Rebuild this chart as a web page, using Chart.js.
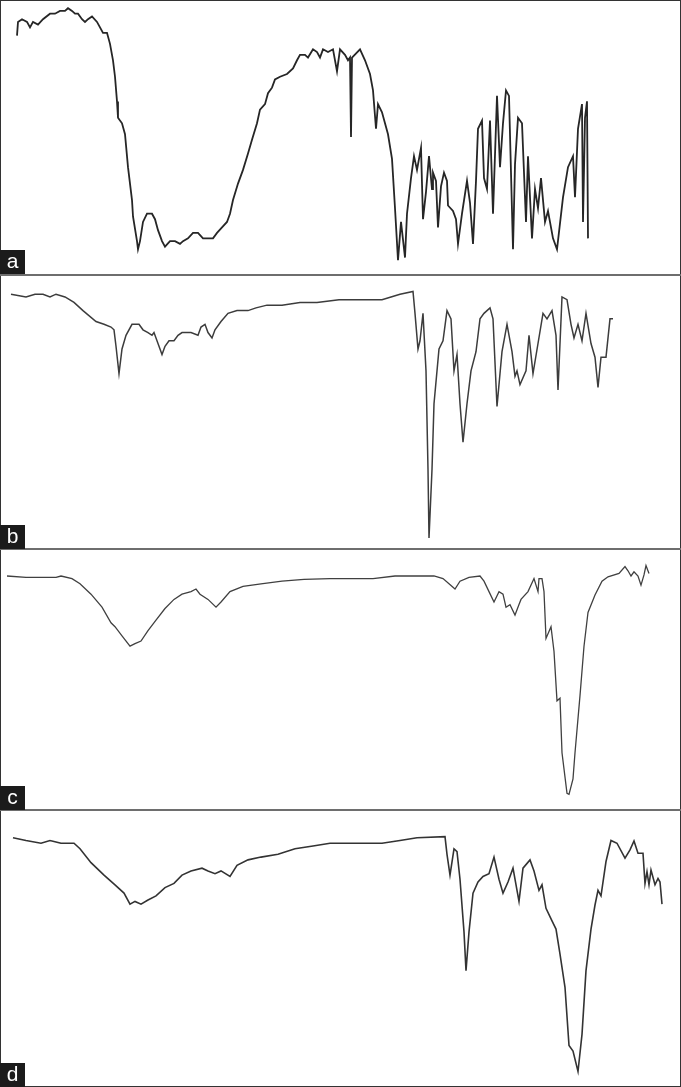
<!DOCTYPE html>
<html>
<head>
<meta charset="utf-8">
<script src="https://cdn.jsdelivr.net/npm/chart.js@4/dist/chart.umd.min.js"></script>
<style>
  body { margin: 0; background: #fff; }
  #figure { position: relative; width: 681px; height: 1087px; background: #fff; overflow: hidden; }
  .panel { position: absolute; left: 0; width: 681px; }
  .panel canvas { position: absolute; left: 0; top: 0; }
  .sep { position: absolute; left: 0; width: 681px; height: 2px; background: #6e6e6e; }
  .frame { position: absolute; left: 0; top: 0; width: 679px; height: 1085px; border: 1px solid #333; }
  .tag { position: absolute; left: 0; width: 25px; height: 24px; background: #1b1b1b; color: #fff;
         font-family: "Liberation Sans", Arial, sans-serif; font-size: 21px; line-height: 22px; text-align: center; }
</style>
</head>
<body>
<div id="figure">
  <div class="panel" style="top:0;height:274px"><canvas id="specA" width="681" height="274"></canvas></div>
  <div class="panel" style="top:275px;height:274px"><canvas id="specB" width="681" height="274"></canvas></div>
  <div class="panel" style="top:550px;height:260px"><canvas id="specC" width="681" height="260"></canvas></div>
  <div class="panel" style="top:810px;height:277px"><canvas id="specD" width="681" height="277"></canvas></div>
  <div class="frame"></div>
  <div class="sep" style="top:274px"></div>
  <div class="sep" style="top:548px"></div>
  <div class="sep" style="top:809px"></div>
  <div class="tag" style="top:250px">a</div>
  <div class="tag" style="top:525px">b</div>
  <div class="tag" style="top:786px">c</div>
  <div class="tag" style="top:1063px">d</div>
</div>
<script>
// positions along the (unlabelled) wavenumber axis, and % transmittance
const posA = [17,18,22,27,30,33,38,43,50,55,60,65,68,72,75,78,82,85,88,92,97,100,103,107,110,113,115,117,118,122,125,128,132,133,137,138,140,143,147,152,155,158,162,165,170,175,180,183,188,193,198,203,208,213,217,222,227,230,233,238,243,248,252,257,260,265,268,272,275,280,287,293,297,300,305,308,313,317,320,323,328,333,337,340,345,348,350,351,352,360,365,370,373,376,378,382,385,388,392,395,398,401,405,407,411,414,417,421,423,426,429,432,433,436,438,441,444,447,448,453,456,458,462,467,470,473,476,478,482,484,487,490,493,497,500,503,506,509,513,515,518,522,526,528,532,535,538,541,545,548,553,557,563,568,573,575,578,582,583,585,587,588];
const transA = [87,92,93,92,90,92,91,93,95,95,96,96,97,96,95,95,93,92,93,94,92,90,88,88,84,78,72,63,57,55,51,39,27,21,12,9,12,19,22,22,20,16,12,10,12,12,11,12,13,15,15,13,13,13,15,17,19,22,27,33,38,44,49,55,60,62,66,68,71,72,73,75,78,80,80,79,82,81,79,82,81,82,74,82,80,78,79,50,79,82,78,73,67,53,62,59,55,51,42,24,5,19,6,22,35,43,38,46,20,30,43,31,37,34,17,32,37,34,25,23,20,11,22,34,26,11,34,53,56,35,31,56,22,65,39,55,67,65,9,40,57,55,19,43,13,31,24,35,19,23,13,9,28,39,43,28,53,62,19,57,63,13];

const posB = [11,26,35,43,50,56,65,74,83,96,104,111,114,116,119,122,126,132,139,143,148,152,154,159,162,165,169,174,178,182,191,198,201,205,208,212,215,221,228,237,248,256,267,282,300,317,339,360,382,391,400,413,415,418,420,423,426,428,429,432,434,439,443,447,451,454,457,460,463,467,471,476,480,484,490,493,497,502,507,512,515,517,520,526,529,533,538,543,547,552,556,558,562,567,571,574,578,582,586,591,595,598,601,606,610,613];
const transB = [93,92,93,93,92,93,92,90,87,83,82,81,80,74,64,73,78,82,82,80,79,78,79,74,71,74,76,76,78,79,79,78,81,82,79,77,80,83,86,87,87,88,89,89,90,90,91,91,91,92,93,94,86,73,76,86,65,29,4,29,53,73,76,87,84,65,71,53,39,53,65,72,84,86,88,84,52,72,82,72,63,65,60,65,78,64,75,86,84,87,78,58,92,91,82,77,82,76,86,75,70,59,70,70,84,84];

const posC = [7,26,56,61,72,80,91,102,111,115,122,130,135,141,148,156,165,174,182,191,196,200,208,216,221,230,243,261,282,304,330,373,395,434,443,449,455,460,469,480,484,489,494,499,503,506,510,515,519,521,528,534,538,539,542,544,546,551,554,557,560,562,567,569,573,575,580,584,588,595,602,608,619,625,628,631,634,638,641,644,646,649];
const transC = [90,89.5,89.5,90,89,87,83,78,72,70.5,67,63,64,65,69,73,77.5,81,83,84,85,83,81,78,80,84,86,87,88,88.7,89,89,90,90,89,87,85,88,89.5,90,88,84,80,84,83,78,79,75,79,81,84,89,84,89,89,84,66,70.5,61,42,43,22,6.4,6,12,22,44,63,76,82.7,88,89.7,91,93.6,92,90,91.6,90,86.5,90.4,94,91];

const posD = [13,26,41,50,61,74,80,91,104,115,124,130,135,141,148,156,165,174,182,191,202,208,215,221,230,237,248,261,278,295,313,330,347,382,400,417,445,447,450,454,457,460,464,466,469,473,478,483,489,494,499,503,508,513,519,523,530,534,539,542,546,552,556,560,565,569,573,578,582,586,591,595,598,601,606,611,617,625,630,634,638,643,645,647,649,651,655,658,660,662];
const transD = [90,89,88,89,88,88,86,81,76.5,73,70,66,67,66,67.5,69,72,73.5,76.5,78,79,78,77,78,76,80,82,83,84,86,87,88,88,88,89,90,90.4,84,76.5,86,85,75,56,42,56,70,74,76,77,83,75,70,74,79,67,79,82,78,71,73,64.5,60,57,48,36,15,13,5.6,19,42,57,65.7,71,69,81.4,89,88,82.6,85.6,88.8,84.4,84.4,73.5,77.7,73,78.3,73,75.3,74,66];

function drawSpectrum(canvasId, xs, ys, color, width) {
  const ctx = document.getElementById(canvasId).getContext('2d');
  new Chart(ctx, {
    type: 'line',
    data: {
      datasets: [{
        data: xs.map((x, i) => ({ x: x, y: ys[i] })),
        borderColor: color,
        borderWidth: width,
        pointRadius: 0,
        tension: 0,
        fill: false
      }]
    },
    options: {
      responsive: false,
      animation: false,
      layout: { padding: 0 },
      plugins: { legend: { display: false }, tooltip: { enabled: false } },
      scales: {
        x: { type: 'linear', min: 0, max: 681, display: false },
        y: { min: 0, max: 100, display: false }
      }
    }
  });
}

document.addEventListener("DOMContentLoaded", function () {
  drawSpectrum('specA', posA, transA, '#262626', 1.8);
  drawSpectrum('specB', posB, transB, '#3c3c3c', 1.5);
  drawSpectrum('specC', posC, transC, '#404040', 1.3);
  drawSpectrum('specD', posD, transD, '#333333', 1.6);
});
</script>
</body>
</html>
